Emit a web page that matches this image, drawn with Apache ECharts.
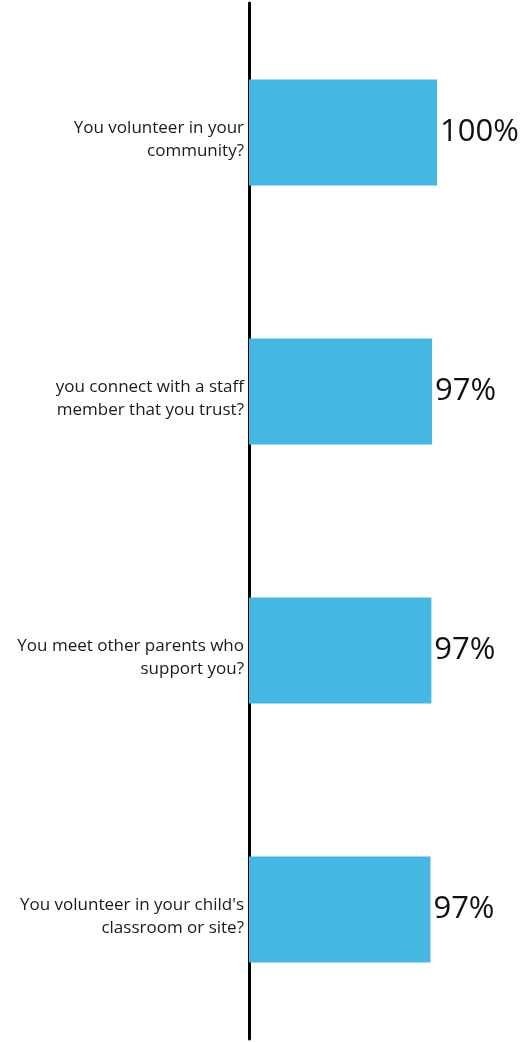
<!DOCTYPE html>
<html>
<head>
<meta charset="utf-8">
<script src="https://cdn.jsdelivr.net/npm/echarts@6/dist/echarts.min.js"></script>
<style>html,body{margin:0;padding:0;background:#fff}#c{width:521px;height:1042px}</style>
</head>
<body>
<div id="c"></div>
<script>
var categories = [
  "You volunteer in your\ncommunity?",
  "you connect with a staff\nmember that you trust?",
  "You meet other parents who\nsupport you?",
  "You volunteer in your child's\nclassroom or site?"
];
var values = [100, 97.4, 97.0, 96.5];

var chart = echarts.init(document.getElementById('c'), null, {renderer: 'canvas'});
chart.setOption({
  animation: false,
  grid: {left: 249, right: 84, top: 3, bottom: 3, containLabel: false},
  xAxis: {
    type: 'value', min: 0, max: 100,
    show: false
  },
  yAxis: {
    type: 'category', data: categories, inverse: true,
    axisLine: {show: true, lineStyle: {color: '#000', width: 3}},
    axisTick: {show: false},
    splitLine: {show: false},
    axisLabel: {
      margin: 5, align: 'right',
      fontFamily: 'Open Sans', fontSize: 17, color: '#1a1a1a',
      lineHeight: 23,
      formatter: function (v) {
        return '{s| }\n' + v.split('\n').map(function (t) { return '{t|' + t + '}'; }).join('\n');
      },
      rich: {
        s: {fontSize: 10, lineHeight: 15, height: 15},
        t: {fontFamily: 'Open Sans', fontSize: 17, color: '#1a1a1a', lineHeight: 23, align: 'right'}
      }
    }
  },
  series: [{
    type: 'bar',
    data: values,
    barWidth: '41%',
    itemStyle: {color: '#44B7E2'},
    label: {
      show: true, position: 'right', distance: 3,
      fontFamily: 'Open Sans', fontSize: 31, color: '#111',
      formatter: function (p) { return Math.round(p.value) + '%'; }
    }
  }]
});
</script>
</body>
</html>
